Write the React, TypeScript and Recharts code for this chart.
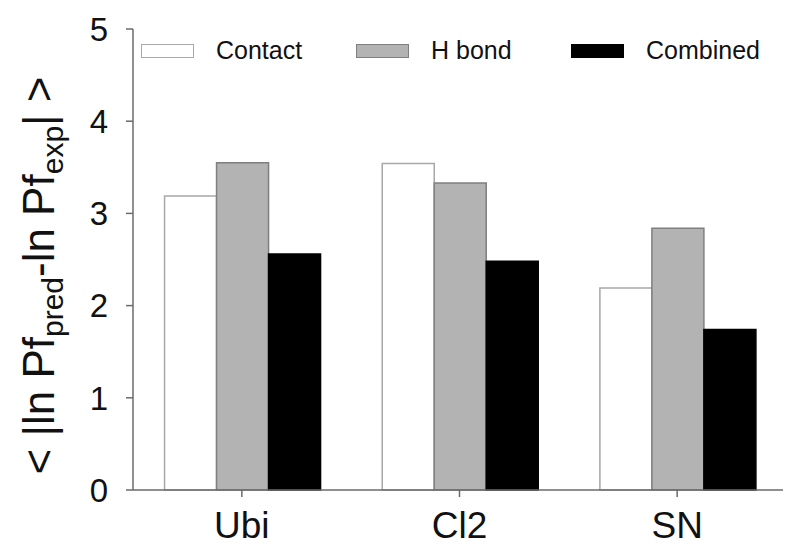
import React from "react";
import { BarChart, Bar, XAxis, YAxis, Legend } from "recharts";

const categories = ["Ubi", "Cl2", "SN"];
const contactValues = [3.19, 3.54, 2.19];
const hbondValues = [3.55, 3.33, 2.84];
const combinedValues = [2.56, 2.48, 1.74];
const yTicks = [0, 1, 2, 3, 4, 5];

const data = categories.map((c, i) => ({
  name: c,
  contact: contactValues[i],
  hbond: hbondValues[i],
  combined: combinedValues[i],
}));

const FONT = "'Liberation Sans', Arial, sans-serif";
const AXIS = "#6b6b6b";

const series = [
  { key: "contact", label: "Contact", fill: "#ffffff", stroke: "#a8a8a8" },
  { key: "hbond", label: "H bond", fill: "#b3b3b3", stroke: "#7f7f7f" },
  { key: "combined", label: "Combined", fill: "#000000", stroke: "#000000" },
];

const LegendContent = () => (
  <div style={{ display: "flex", fontFamily: FONT, fontSize: 25, color: "#111" }}>
    {series.map((s) => (
      <div key={s.key} style={{ width: 215, display: "flex", alignItems: "center" }}>
        <div
          style={{
            width: 51,
            height: 12,
            background: s.fill,
            border: `1.5px solid ${s.stroke}`,
            marginRight: 22,
          }}
        />
        <span>{s.label}</span>
      </div>
    ))}
  </div>
);

const YLabel = (props: any) => {
  const vb = props.viewBox || { x: 0, y: 0, width: 0, height: 0 };
  const x = vb.x + 46;
  const y = vb.y + vb.height / 2 + 16;
  return (
    <text
      x={x}
      y={y}
      transform={`rotate(-90, ${x}, ${y})`}
      textAnchor="middle"
      fontFamily={FONT}
      fontSize={44}
      fill="#111"
    >
      <tspan>{"< |ln Pf"}</tspan>
      <tspan fontSize={30} dy={9}>pred</tspan>
      <tspan dy={-9}>{"-ln Pf"}</tspan>
      <tspan fontSize={30} dy={9}>exp</tspan>
      <tspan dy={-9}>{"| >"}</tspan>
    </text>
  );
};

export default function App() {
  return (
    <BarChart
      width={783}
      height={538}
      data={data}
      margin={{ top: 21, right: 5, left: 0, bottom: 0 }}
      barCategoryGap="14.5%"
      barGap={0}
    >
      <XAxis
        dataKey="name"
        height={56}
        tickSize={7}
        tickMargin={15}
        tick={{ fontFamily: FONT, fontSize: 37, fill: "#111" }}
        axisLine={{ stroke: AXIS, strokeWidth: 1.5 }}
        tickLine={{ stroke: AXIS, strokeWidth: 1.5 }}
      />
      <XAxis
        xAxisId="top"
        dataKey="name"
        orientation="top"
        height={0}
        tick={false}
        tickLine={false}
        axisLine={{ stroke: AXIS, strokeWidth: 1.5 }}
      />
      <YAxis
        width={125}
        domain={[0, 5]}
        ticks={yTicks}
        tickSize={7}
        tickMargin={18}
        tick={{ fontFamily: FONT, fontSize: 33, fill: "#111" }}
        axisLine={{ stroke: AXIS, strokeWidth: 1.5 }}
        tickLine={{ stroke: AXIS, strokeWidth: 1.5 }}
        label={{ content: YLabel }}
      />
      <YAxis
        yAxisId="right"
        orientation="right"
        width={0}
        domain={[0, 5]}
        tick={false}
        tickLine={false}
        axisLine={{ stroke: AXIS, strokeWidth: 1.5 }}
      />
      <Legend
        verticalAlign="middle"
        align="center"
        layout="horizontal"
        content={<LegendContent />}
        wrapperStyle={{ position: "absolute", top: 28, left: 133, width: 650 }}
      />
      {series.map((s) => (
        <Bar
          key={s.key}
          dataKey={s.key}
          name={s.label}
          fill={s.fill}
          stroke={s.stroke}
          strokeWidth={1.5}
          isAnimationActive={false}
        />
      ))}
    </BarChart>
  );
}
